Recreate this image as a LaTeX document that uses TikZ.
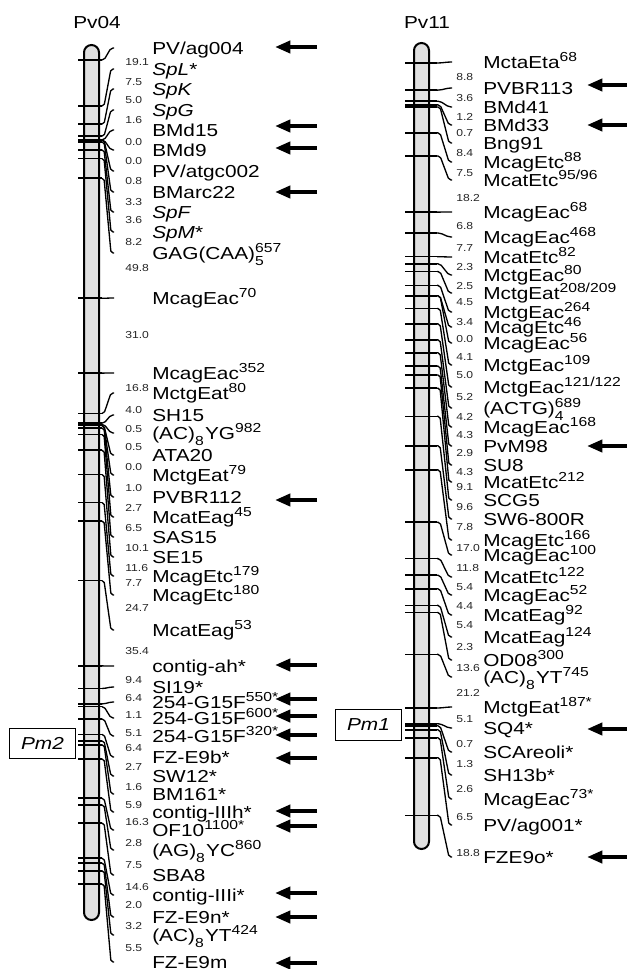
\documentclass[tikz,border=0pt]{standalone}
\usepackage{fontspec}
\setmainfont{Liberation Sans}[FakeStretch=1.2]
\usetikzlibrary{arrows.meta,calc}
\newcommand\sps[1]{\raisebox{4.8pt}{\fontsize{9.8}{10}\selectfont #1}}
\newcommand\sbs[1]{\raisebox{-5pt}{\fontsize{9.8}{10}\selectfont #1}}
\newcommand\sbsps[2]{\rlap{\sbs{#1}}\sps{#2}}
\tikzset{
 lab/.style={anchor=base west,inner sep=0pt,font=\fontsize{13}{15}\selectfont},
 ttl/.style={anchor=base,inner sep=0pt,font=\fontsize{13}{15}\selectfont},
 num/.style={anchor=west,inner sep=0pt,font=\fontsize{7.6}{8}\selectfont,text=black!85},
 tickline/.style={line width=1.2pt},
 conn/.style={line width=1pt,line join=round,rounded corners=1.5pt},
 mkarrow/.style={line width=3pt,-{Triangle[length=11.5pt,width=9pt]}},
 chrom/.style={draw,line width=1.5pt,fill=black!12,rounded corners=5.6pt},
 pmbox/.style={draw,line width=0.8pt,inner sep=0pt,minimum width=50pt,minimum height=23pt,font=\fontsize{13}{15}\selectfont\itshape},
}
\begin{document}
\begin{tikzpicture}[x=0.75pt,y=-0.75pt]
\useasboundingbox (0,0) rectangle (627,969);
\fill[white] (0,0) rectangle (627,969);
% chromosomes
\draw[chrom] (84,45) rectangle (99,920);
\draw[chrom] (414,43) rectangle (429,849);
\node[ttl] (pv04) at (97,29) {Pv04};
\node[ttl] (pv11) at (427,29) {Pv11};
% left markers
\foreach \ty/\ly/\txt [count=\i] in {
 60/48/{PV/ag004},
 106.0/69/{\textit{SpL}*},
 124.1/89/{\textit{SpK}},
 136.2/110/{\textit{SpG}},
 140.0/130/{BMd15},
 140.0/150/{BMd9},
 140.0/171/{PV/atgc002},
 141.9/192/{BMarc22},
 149.9/212/{\textit{SpF}},
 158.6/232/{\textit{SpM}*},
 178.3/253/{GAG(CAA)\sbsps{5}{657}},
 298.3/298/{McagEac\sps{70}},
 373.1/373/{McagEac\sps{352}},
 413.5/393/{MctgEat\sps{80}},
 423.2/415/{SH15},
 424.4/433/{(AC)\sbs{8}\kern1pt YG\sps{982}},
 425.6/455/{ATA20},
 425.6/475/{MctgEat\sps{79}},
 428.0/497/{PVBR112},
 434.5/517/{McatEag\sps{45}},
 450.2/537/{SAS15},
 474.5/557/{SE15},
 502.5/576/{McagEtc\sps{179}},
 521.0/595/{McagEtc\sps{180}},
 580.6/630/{McatEag\sps{53}},
 665.9/666/{contig-ah*},
 688.5/687/{SI19*},
 703.9/702/{254-G15F\sps{550*}},
 706.6/718/{254-G15F\sps{600*}},
 718.9/736/{254-G15F\sps{320*}},
 734.3/757/{FZ-E9b*},
 740.8/776/{SW12*},
 744.7/794/{BM161*},
 758.9/812/{contig-IIIh*},
 798.2/830/{OF10\sps{1100*}},
 804.9/850/{(AG)\sbs{8}\kern1pt YC\sps{860}},
 823.0/875/{SBA8},
 858.2/895/{contig-IIIi*},
 863.0/917/{FZ-E9n*},
 870.7/935/{(AC)\sbs{8}\kern1pt YT\sps{424}},
 884.0/962/{FZ-E9m}}{
  \coordinate (sL\i) at (78,\ty);
  \coordinate (tL\i) at (102,\ty);
  \coordinate (eL\i) at (114,\ly);
  \draw[tickline] (sL\i) -- (tL\i);
  \draw[conn] (tL\i) -- ++(2,0) -- ($(eL\i)+(-3,0)$) -- (eL\i);
  \node[lab] (mL\i) at (152,\ly+6.2) {\txt};
}
% left distances
\foreach \n/\y [count=\i] in {19.1/62, 7.5/82, 5.0/100, 1.6/120, 0.0/142, 0.0/161, 0.8/181, 3.3/202, 3.6/220, 8.2/242, 49.8/268, 31.0/335, 16.8/388, 4.0/410, 0.5/429, 0.5/447, 0.0/467, 1.0/488, 2.7/508, 6.5/528, 10.1/548, 11.6/568, 7.7/583, 24.7/608, 35.4/651, 9.4/680, 6.4/698, 1.1/715, 5.1/733, 6.4/748, 2.7/767, 1.6/787, 5.9/805, 16.3/822, 2.8/843, 7.5/865, 14.6/887, 2.0/905, 3.2/926, 5.5/948}{
  \node[num] (nL\i) at (125,\y) {\n};
}
% right markers
\foreach \ty/\ly/\txt [count=\i] in {
 63/62/{MctaEta\sps{68}},
 90.1/88/{PVBR113},
 101.2/107/{BMd41},
 104.9/125/{BMd33},
 107.0/143/{Bng91},
 132.9/162/{McagEtc\sps{88}},
 156.0/180/{McatEtc\sps{95/96}},
 212.1/212/{McagEac\sps{68}},
 233.0/237/{McagEac\sps{468}},
 256.7/257/{McatEtc\sps{82}},
 263.8/275/{MctgEac\sps{80}},
 271.5/293/{MctgEat\sps{208/209}},
 285.4/312/{MctgEac\sps{264}},
 295.8/327/{McagEtc\sps{46}},
 295.8/343/{McagEac\sps{56}},
 308.5/365/{MctgEac\sps{109}},
 323.9/387/{MctgEac\sps{121/122}},
 339.9/408/{(ACTG)\sbsps{4}{689}},
 352.8/427/{McagEac\sps{168}},
 366.1/446/{PvM98},
 375.0/465/{SU8},
 388.2/482/{McatEtc\sps{212}},
 416.3/500/{SCG5},
 445.8/519/{SW6-800R},
 469.9/540/{McagEtc\sps{166}},
 522.2/555/{McagEac\sps{100}},
 558.6/577/{McatEtc\sps{122}},
 575.2/595/{McagEac\sps{52}},
 588.8/615/{McatEag\sps{92}},
 605.4/637/{McatEag\sps{124}},
 612.5/660/{OD08\sps{300}},
 654.4/677/{(AC)\sbs{8}\kern1pt YT\sps{745}},
 708/707/{MctgEat\sps{187*}},
 723.7/728/{SQ4*},
 725.8/752/{SCAreoli*},
 729.8/775/{SH13b*},
 737.8/799/{McagEac\sps{73*}},
 757.7/825/{PV/ag001*},
 815.4/857/{FZE9o*}}{
  \coordinate (sR\i) at (405,\ty);
  \coordinate (tR\i) at (437,\ty);
  \coordinate (eR\i) at (452,\ly);
  \draw[tickline] (sR\i) -- (tR\i);
  \draw[conn] (tR\i) -- ++(3,0) -- ($(eR\i)+(-3,0)$) -- (eR\i);
  \node[lab] (mR\i) at (483,\ly+6.2) {\txt};
}
% right distances
\foreach \n/\y [count=\i] in {8.8/77, 3.6/98, 1.2/117, 0.7/133, 8.4/153, 7.5/173, 18.2/198, 6.8/226, 7.7/248, 2.3/267, 2.5/286, 4.5/302, 3.4/322, 0.0/339, 4.1/357, 5.0/375, 5.2/397, 4.2/417, 4.3/435, 2.9/453, 4.3/472, 9.1/487, 9.6/507, 7.8/527, 17.0/548, 11.8/568, 5.4/587, 4.4/606, 5.4/625, 2.3/647, 13.6/668, 21.2/693, 5.1/719, 0.7/744, 1.3/764, 2.6/789, 6.5/817, 18.8/853}{
  \node[num] (nR\i) at (456,\y) {\n};
}
% arrows
\foreach \y [count=\i] in {47,126,148,192,500,665,699,716,735,758,811,826,893,917,963}{
  \coordinate (aLs\i) at (317,\y);
  \coordinate (aLe\i) at (275,\y);
  \draw[mkarrow] (aLs\i) -- (aLe\i);
}
\foreach \y [count=\i] in {85,125,446,729,857}{
  \coordinate (aRs\i) at (627,\y);
  \coordinate (aRe\i) at (587,\y);
  \draw[mkarrow] (aRs\i) -- (aRe\i);
}
% resistance loci
\node[pmbox] (pm2) at (42.5,743.5) {Pm2};
\node[pmbox] (pm1) at (368.5,725) {Pm1};
\end{tikzpicture}
\end{document}
